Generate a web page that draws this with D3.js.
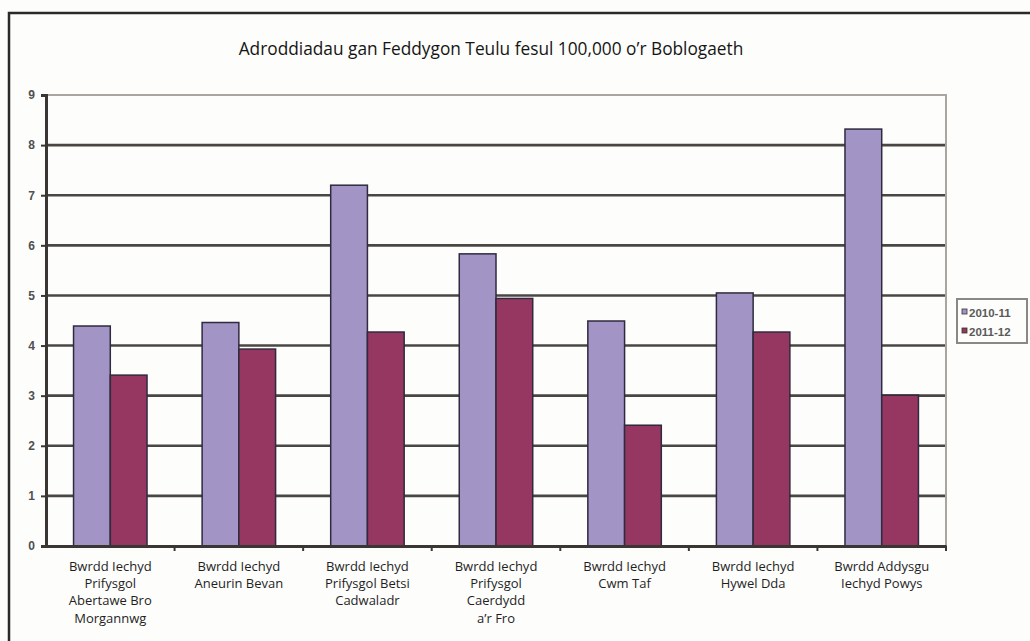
<!DOCTYPE html>
<html><head><meta charset="utf-8">
<script src="https://cdn.jsdelivr.net/npm/d3@7"></script>
<style>
html,body{margin:0;padding:0;background:#fdfdfb;}
svg{display:block;}
</style></head>
<body>
<svg id="chart" width="1030" height="641"></svg>
<script>
const title = "Adroddiadau gan Feddygon Teulu fesul 100,000 o\u2019r Boblogaeth";
const categories = [
  ["Bwrdd Iechyd","Prifysgol","Abertawe Bro","Morgannwg"],
  ["Bwrdd Iechyd","Aneurin Bevan"],
  ["Bwrdd Iechyd","Prifysgol Betsi","Cadwaladr"],
  ["Bwrdd Iechyd","Prifysgol","Caerdydd","a\u2019r Fro"],
  ["Bwrdd Iechyd","Cwm Taf"],
  ["Bwrdd Iechyd","Hywel Dda"],
  ["Bwrdd Addysgu","Iechyd Powys"]
];
const seriesNames = ["2010-11","2011-12"];
const values2010 = [4.39, 4.46, 7.2, 5.83, 4.49, 5.05, 8.32];
const values2011 = [3.41, 3.93, 4.27, 4.94, 2.41, 4.27, 3.01];
const yTicks = [0,1,2,3,4,5,6,7,8,9];
const colors = ["#a295c6","#953760"];

const svg = d3.select("#chart");
const L = 46, R = 946, T = 95, B = 546;

// outer frame
svg.append("path").attr("d", "M9,641 V13 H1030").attr("fill","none")
  .attr("stroke","#2b2a28").attr("stroke-width",2.5);

svg.append("text").attr("x", 491).attr("y", 55).attr("text-anchor","middle")
  .attr("font-family","'Open Sans', sans-serif").attr("font-size",17.3)
  .attr("font-weight",500).attr("fill","#151515").text(title);

const x = d3.scaleBand().domain(d3.range(categories.length)).range([L, R]).paddingInner(0).paddingOuter(0);
const y = d3.scaleLinear().domain([0, 9]).range([B, T]);
const barW = x.bandwidth() / 3.5;
const xs = d3.scaleBand().domain([0,1]).range([0, barW*2]);

// gridlines
svg.append("g").selectAll("line").data(yTicks.filter(d => d > 0 && d < 9)).join("line")
  .attr("x1", L).attr("x2", R).attr("y1", d => y(d)).attr("y2", d => y(d))
  .attr("stroke","#4a4643").attr("stroke-width",2.6);
// plot frame top/right
svg.append("path").attr("d", `M${L},${y(9)} H${R} V${B}`).attr("fill","none")
  .attr("stroke","#a9a6a2").attr("stroke-width",2);

// bars
const data = [values2010, values2011];
data.forEach((vals, si) => {
  svg.append("g").selectAll("rect").data(vals).join("rect")
    .attr("x", (d,i) => x(i) + barW*0.75 + xs(si))
    .attr("y", d => y(d))
    .attr("width", barW)
    .attr("height", d => y(0) - y(d))
    .attr("fill", colors[si])
    .attr("stroke","#2f2a3e").attr("stroke-width",1.5);
});

// y axis
const yAxis = d3.axisLeft(y).tickValues(yTicks).tickSize(5).tickPadding(6).tickFormat(d3.format("d"));
const yg = svg.append("g").attr("transform", `translate(${L},0)`).call(yAxis);
yg.select(".domain").attr("stroke","#3a3633").attr("stroke-width",3);
yg.selectAll(".tick line").attr("stroke","#3a3633").attr("stroke-width",2);
yg.selectAll(".tick text").attr("font-family","Arial, 'Liberation Sans', sans-serif")
  .attr("font-size",12).attr("font-weight","bold").attr("fill","#505050");

// x axis
const xAxis = d3.axisBottom(x).tickValues([]).tickSizeOuter(0);
const xg = svg.append("g").attr("transform", `translate(0,${B})`).call(xAxis);
xg.select(".domain").attr("stroke","#3a3633").attr("stroke-width",3);
xg.selectAll(".cticks").data(d3.range(1, categories.length+1)).join("line")
  .attr("x1", i => L + i*x.step()).attr("x2", i => L + i*x.step())
  .attr("y1", 0).attr("y2", 5).attr("stroke","#3a3633").attr("stroke-width",2);

// category labels
const lab = svg.append("g").selectAll("text").data(categories).join("text")
  .attr("text-anchor","middle").attr("font-family","'Open Sans', sans-serif")
  .attr("font-size",13).attr("fill","#1f1f1f")
  .attr("transform", (d,i) => `translate(${x(i)+x.bandwidth()/2},571)`);
lab.selectAll("tspan").data(d => d).join("tspan")
  .attr("x",0).attr("y",(d,j) => j*17.2).text(d => d);

// legend
const lg = svg.append("g").attr("transform","translate(957,299)");
lg.append("rect").attr("width",70).attr("height",44).attr("fill","#fdfdfb")
  .attr("stroke","#8a8884").attr("stroke-width",2);
seriesNames.forEach((s, i) => {
  lg.append("rect").attr("x",5).attr("y",10 + i*19).attr("width",5).attr("height",5)
    .attr("fill",colors[i]).attr("stroke","#333").attr("stroke-width",0.8);
  lg.append("text").attr("x",12).attr("y",17.5 + i*19)
    .attr("font-family","Arial, 'Liberation Sans', sans-serif").attr("font-size",11.5)
    .attr("font-weight","bold").attr("fill","#5a5a5a").text(s);
});
</script>
</body></html>
